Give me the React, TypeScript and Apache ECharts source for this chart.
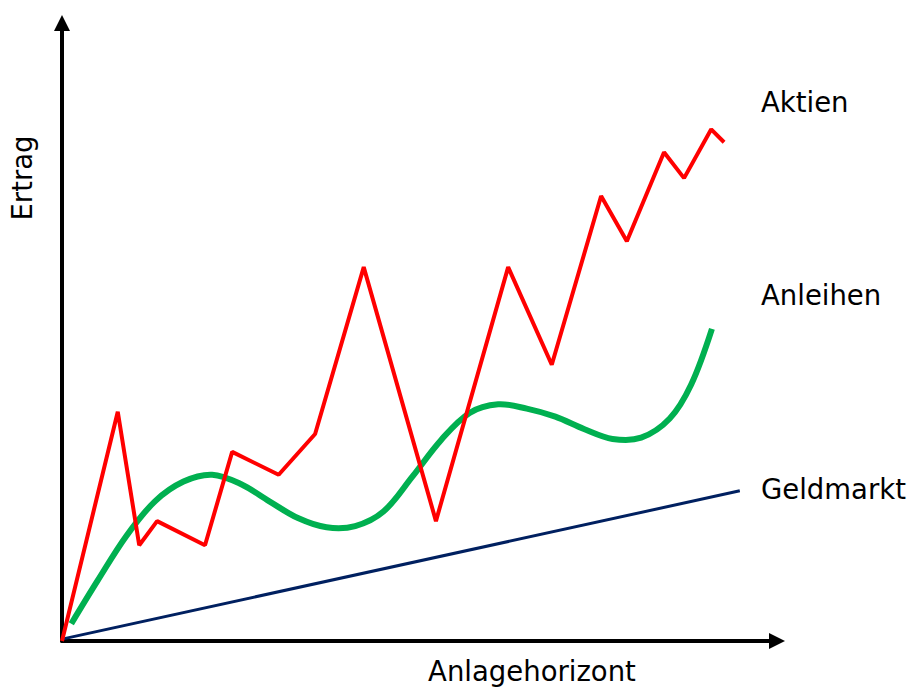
import React, { useEffect, useRef } from "react";
import * as echarts from "echarts";

// Schematic: x = investment horizon (0..100), y = return (0..100)
const aktienX = [0, 7.8, 10.8, 13.3, 20.0, 23.8, 30.3, 35.4, 42.2, 52.3, 62.4, 68.5, 75.4, 79.0, 84.2, 87.0, 90.8, 92.6];
const aktienY = [0, 37.1, 15.5, 19.4, 15.5, 30.6, 26.9, 33.5, 60.5, 19.4, 60.5, 44.7, 72.0, 64.7, 79.1, 74.9, 82.8, 80.7];

const anleihenX = [1.3, 5, 9, 13, 17, 21, 25, 29, 33, 37, 41, 45, 49, 53, 57, 61, 65, 69, 73, 77, 81, 85, 88, 90.9];
const anleihenY = [2.8, 9.8, 17.0, 22.6, 25.8, 26.9, 25.4, 22.6, 19.9, 18.4, 18.6, 21.0, 26.6, 32.5, 36.9, 38.3, 37.6, 36.3, 34.3, 32.7, 32.9, 36.0, 41.5, 50.5];

const geldmarktX = [0, 94.8];
const geldmarktY = [0.3, 24.3];

const seriesNames = ["Aktien", "Anleihen", "Geldmarkt"];
const xAxisTitle = "Anlagehorizont";
const yAxisTitle = "Ertrag";

const zip = (xs: number[], ys: number[]) => xs.map((x, i) => [x, ys[i]]);

export default function App() {
  const ref = useRef<HTMLDivElement>(null);
  useEffect(() => {
    if (!ref.current) return;
    const chart = echarts.init(ref.current, null, { renderer: "svg" });
    const font = "'DejaVu Sans', sans-serif";
    const fs = 27.5;
    const axisCommon = {
      min: 0,
      max: 100,
      axisLine: {
        show: true,
        symbol: ["none", "triangle"],
        symbolSize: [16, 16],
        lineStyle: { color: "#000", width: 4 },
      },
      axisTick: { show: false },
      axisLabel: { show: false },
      splitLine: { show: false },
    };
    chart.setOption({
      animation: false,
      backgroundColor: "#fff",
      grid: { left: 62, right: 137, top: 23, bottom: 46 },
      xAxis: { type: "value", ...axisCommon },
      yAxis: { type: "value", ...axisCommon },
      series: [
        {
          name: seriesNames[2],
          type: "line",
          symbol: "none",
          data: zip(geldmarktX, geldmarktY),
          lineStyle: { color: "#002060", width: 3 },
          z: 2,
        },
        {
          name: seriesNames[1],
          type: "custom",
          data: zip(anleihenX, anleihenY),
          encode: { x: 0, y: 1 },
          z: 3,
          renderItem: (params: any, api: any) => {
            if (params.dataIndex !== 0) return null;
            const pts = anleihenX.map((x, i) => api.coord([x, anleihenY[i]]));
            return {
              type: "polyline",
              shape: { points: pts, smooth: 0.35 },
              style: { stroke: "#00b050", lineWidth: 6, fill: "none" },
            };
          },
        },
        {
          name: seriesNames[0],
          type: "line",
          symbol: "none",
          data: zip(aktienX, aktienY),
          lineStyle: { color: "#ff0000", width: 4 },
          z: 4,
        },
      ],
      graphic: [
        { type: "text", x: 761, y: 102, style: { text: seriesNames[0], font: `${fs}px ${font}`, fill: "#000", align: "left", verticalAlign: "middle" } },
        { type: "text", x: 761, y: 295, style: { text: seriesNames[1], font: `${fs}px ${font}`, fill: "#000", align: "left", verticalAlign: "middle" } },
        { type: "text", x: 761, y: 489, style: { text: seriesNames[2], font: `${fs}px ${font}`, fill: "#000", align: "left", verticalAlign: "middle" } },
        { type: "text", x: 532, y: 671, style: { text: xAxisTitle, font: `${fs}px ${font}`, fill: "#000", align: "center", verticalAlign: "middle" } },
        { type: "text", x: 22, y: 178, rotation: Math.PI / 2, style: { text: yAxisTitle, font: `${fs}px ${font}`, fill: "#000", align: "center", verticalAlign: "middle" } },
      ],
    });
    return () => chart.dispose();
  }, []);
  return <div ref={ref} style={{ position: "fixed", left: 0, top: 0, width: 914, height: 687 }} />;
}
